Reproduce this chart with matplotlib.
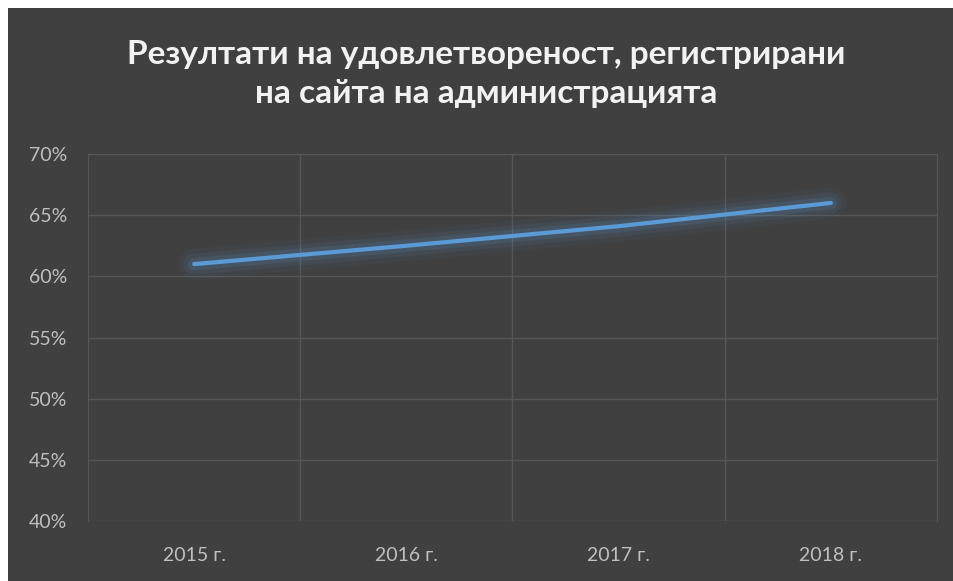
import matplotlib

matplotlib.use("Agg")
import matplotlib.pyplot as plt  # noqa: E402
from matplotlib.patches import Rectangle  # noqa: E402
from matplotlib.ticker import FuncFormatter, MultipleLocator  # noqa: E402

plt.rcParams["font.family"] = ["Lato", "DejaVu Sans"]

# data
years = ["2015 г.", "2016 г.", "2017 г.", "2018 г."]
satisfaction = [61.0, 62.5, 64.1, 66.0]
title = "Резултати на удовлетвореност, регистрирани\nна сайта на администрацията"

BG = "#404040"
GRID = "#565656"
TEXT = "#bfbfbf"
LINE = "#5b9bd5"

W, H = 954, 581
fig = plt.figure(figsize=(W / 100, H / 100), dpi=100, facecolor="white")
# dark chart area (small white margin top/left like the screenshot)
fig.add_artist(
    Rectangle((8 / W, 0), 1 - 8 / W, 1 - 8 / H, transform=fig.transFigure,
              facecolor=BG, edgecolor="none", zorder=-5)
)

ax = fig.add_axes([88 / W, 1 - 521 / H, (937 - 88) / W, (521 - 154) / H])
ax.set_facecolor(BG)

x = list(range(len(years)))
# soft glow under the line
for lw, alpha in [(22, 0.05), (15, 0.08), (9, 0.14)]:
    ax.plot(x, satisfaction, color=LINE, lw=lw, alpha=alpha,
            solid_capstyle="round", zorder=2)
ax.plot(x, satisfaction, color=LINE, lw=3.0, solid_capstyle="round", zorder=3)

ax.set_xlim(-0.5, len(years) - 0.5)
ax.set_ylim(40, 70)
ax.yaxis.set_major_locator(MultipleLocator(5))
ax.yaxis.set_major_formatter(FuncFormatter(lambda v, _: f"{v:.0f}%"))
ax.set_xticks(x)
ax.set_xticklabels(years)
ax.set_xticks([i + 0.5 for i in x[:-1]], minor=True)

ax.grid(axis="y", which="major", color=GRID, lw=1)
ax.grid(axis="x", which="minor", color=GRID, lw=1)
ax.set_axisbelow(True)
for side in ["top", "left", "right"]:
    ax.spines[side].set_color(GRID)
ax.spines["bottom"].set_visible(False)

ax.tick_params(axis="both", which="both", length=0, colors=TEXT, labelsize=14)
ax.tick_params(axis="y", pad=15)
ax.tick_params(axis="x", pad=19)

fig.text(0.51, 1 - 74 / H, title, ha="center", va="center", color="#f2f2f2",
         fontsize=24, fontweight="bold", linespacing=1.45)

fig.savefig("out.png", dpi=100, facecolor=fig.get_facecolor())
